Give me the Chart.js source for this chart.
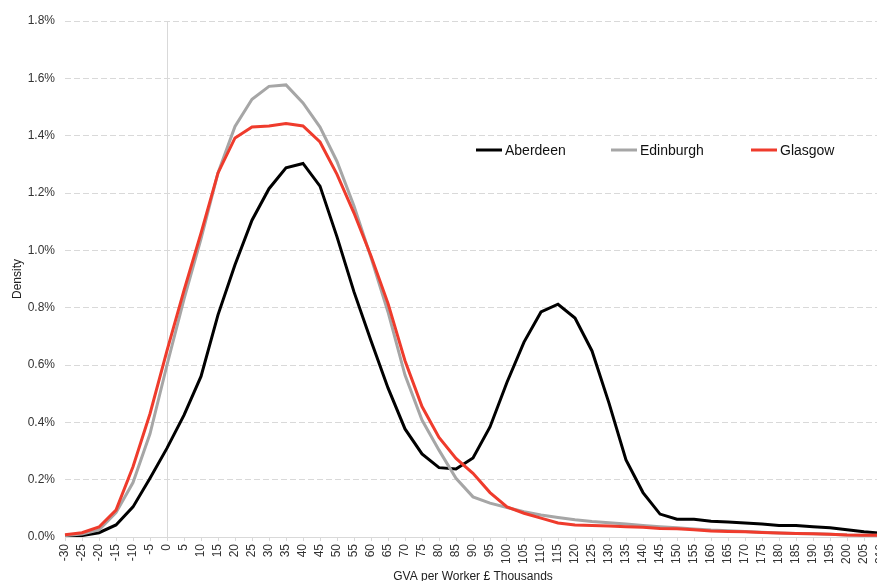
<!DOCTYPE html>
<html>
<head>
<meta charset="utf-8">
<script src="https://cdn.jsdelivr.net/npm/chart.js@4/dist/chart.umd.min.js"></script>
<style>
  html, body { margin: 0; padding: 0; background: #fff; overflow: hidden; }
  #wrap { width: 877px; height: 581px; overflow: hidden; }
</style>
</head>
<body>
<div id="wrap"><canvas id="chart" width="900" height="595"></canvas></div>
<script>
// GVA per worker (£ thousands) bins
const gvaBins = [-30, -25, -20, -15, -10, -5, 0, 5, 10, 15, 20, 25, 30, 35, 40, 45, 50, 55, 60, 65,
  70, 75, 80, 85, 90, 95, 100, 105, 110, 115, 120, 125, 130, 135, 140, 145, 150, 155, 160, 165,
  170, 175, 180, 185, 190, 195, 200, 205, 210];

// density, in percent
const aberdeen = [0.003, 0.005, 0.015, 0.042, 0.105, 0.205, 0.31, 0.425, 0.56, 0.775, 0.95, 1.105,
  1.215, 1.288, 1.303, 1.224, 1.047, 0.855, 0.685, 0.52, 0.377, 0.29, 0.242, 0.237, 0.276, 0.384,
  0.54, 0.68, 0.785, 0.812, 0.764, 0.649, 0.467, 0.269, 0.155, 0.08, 0.062, 0.062, 0.055, 0.052,
  0.049, 0.045, 0.04, 0.04, 0.036, 0.032, 0.025, 0.018, 0.013];

const edinburgh = [0.005, 0.01, 0.025, 0.085, 0.19, 0.36, 0.6, 0.83, 1.04, 1.27, 1.432, 1.527,
  1.572, 1.577, 1.514, 1.43, 1.31, 1.155, 0.975, 0.785, 0.565, 0.408, 0.303, 0.205, 0.14, 0.118,
  0.103, 0.088, 0.077, 0.068, 0.06, 0.054, 0.05, 0.045, 0.04, 0.036, 0.032, 0.028, 0.024, 0.022,
  0.019, 0.017, 0.014, 0.012, 0.011, 0.01, 0.007, 0.006, 0.006];

const glasgow = [0.008, 0.015, 0.035, 0.094, 0.245, 0.43, 0.65, 0.86, 1.06, 1.27, 1.392, 1.43,
  1.434, 1.442, 1.434, 1.378, 1.265, 1.13, 0.98, 0.815, 0.615, 0.455, 0.347, 0.274, 0.222, 0.155,
  0.105, 0.083, 0.066, 0.049, 0.042, 0.04, 0.038, 0.036, 0.034, 0.03, 0.029, 0.025, 0.021, 0.019,
  0.018, 0.016, 0.014, 0.012, 0.011, 0.01, 0.007, 0.006, 0.006];

const seriesNames = ["Aberdeen", "Edinburgh", "Glasgow"];
const seriesColors = ["#000000", "#a6a6a6", "#ef3b2c"];

const yMin = 0;
const yMax = 1.8;
const yStep = 0.2;

Chart.defaults.font.family = "'Liberation Sans', Arial, sans-serif";
Chart.defaults.font.size = 12;
Chart.defaults.color = "#333";

// legend drawn inside the plot, in one row
const insideLegend = {
  id: "insideLegend",
  afterDraw(chart, args, opts) {
    const ctx = chart.ctx;
    ctx.save();
    ctx.font = "14px 'Liberation Sans', Arial, sans-serif";
    ctx.textBaseline = "middle";
    chart.data.datasets.forEach((ds, i) => {
      const x = opts.xs[i];
      const y = opts.y;
      ctx.strokeStyle = ds.borderColor;
      ctx.lineWidth = 3;
      ctx.beginPath();
      ctx.moveTo(x, y);
      ctx.lineTo(x + 26, y);
      ctx.stroke();
      ctx.fillStyle = "#111";
      ctx.fillText(ds.label, x + 29, y + 1);
    });
    ctx.restore();
  }
};

const datasets = [aberdeen, edinburgh, glasgow].map((vals, i) => ({
  label: seriesNames[i],
  data: vals,
  borderColor: seriesColors[i],
  backgroundColor: seriesColors[i],
  borderWidth: 3,
  pointRadius: 0,
  tension: 0,
  fill: false,
  order: 2 - i
}));

new Chart(document.getElementById("chart"), {
  type: "line",
  data: { labels: gvaBins, datasets: datasets },
  options: {
    responsive: false,
    animation: false,
    layout: { padding: { top: 21, right: 19, left: 0, bottom: 0 } },
    plugins: {
      legend: { display: false },
      tooltip: { enabled: false },
      insideLegend: { xs: [476, 611, 751], y: 150 }
    },
    scales: {
      x: {
        offset: false,
        afterFit: s => { s.height = 58; },
        grid: {
          offset: false,
          drawOnChartArea: true,
          color: c => (c.tick && gvaBins[c.tick.value] === 0) ? "#d9d9d9" : "rgba(0,0,0,0)",
          tickColor: "#d9d9d9",
          tickLength: 4
        },
        border: { display: true, color: "#d9d9d9", width: 1 },
        ticks: {
          autoSkip: false,
          minRotation: 90,
          maxRotation: 90,
          padding: 3,
          font: { size: 12 }
        },
        title: {
          display: true,
          text: "GVA per Worker £ Thousands",
          padding: { top: 0, bottom: 11 },
          font: { size: 12 },
          color: "#222"
        }
      },
      y: {
        min: yMin,
        max: yMax,
        afterFit: s => { s.width = 65; },
        grid: { color: "#d9d9d9", drawTicks: false, lineWidth: 1 },
        border: { display: false, dash: [6, 3] },
        ticks: {
          stepSize: yStep,
          padding: 10,
          callback: v => v.toFixed(1) + "%"
        },
        title: {
          display: true,
          text: "Density",
          padding: { top: 10, bottom: 0 },
          font: { size: 12 },
          color: "#222"
        }
      }
    }
  },
  plugins: [insideLegend]
});
</script>
</body>
</html>
